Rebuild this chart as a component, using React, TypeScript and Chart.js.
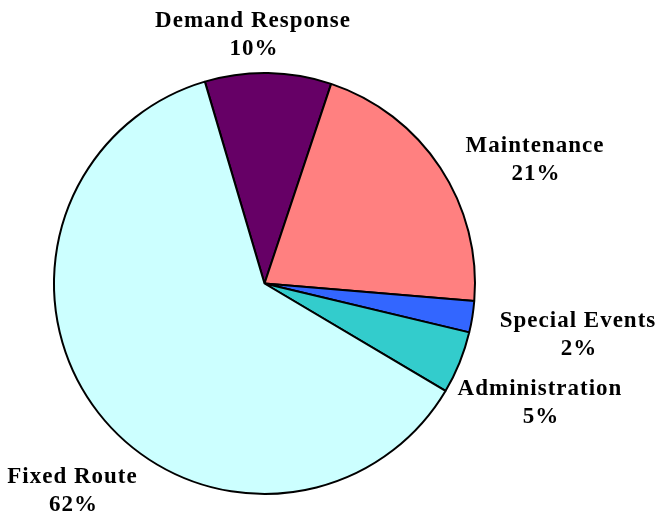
import React, { useEffect, useRef } from "react";
import { Chart, registerables } from "chart.js";

Chart.register(...registerables);

const categories = ["Demand Response", "Maintenance", "Special Events", "Administration", "Fixed Route"];
const values = [9.7, 21.2, 2.4, 4.8, 61.9];
const colors = ["#660066", "#FF8080", "#3366FF", "#33CCCC", "#CCFFFF"];

// label block placement relative to the pie centre: [dx of text centre, dy of first baseline]
const labelOffsets: [number, number][] = [
  [-11.5, -256.8],
  [270.5, -131.8],
  [313.5, 43.2],
  [275.5, 111.5],
  [-192, 199.5],
];

const labelPlugin = {
  id: "pieLabels",
  afterDraw(chart: any) {
    const ctx = chart.ctx;
    const meta = chart.getDatasetMeta(0);
    const total = values.reduce((a, b) => a + b, 0);
    ctx.save();
    ctx.fillStyle = "#000";
    ctx.font = "bold 23px 'Liberation Serif', 'Times New Roman', serif";
    ctx.textAlign = "center";
    ctx.textBaseline = "alphabetic";
    try {
      (ctx as any).letterSpacing = "1px";
    } catch (e) {}
    meta.data.forEach((arc: any, i: number) => {
      const cx = arc.x;
      const cy = arc.y;
      const [dx, dy] = labelOffsets[i];
      const pct = Math.round((values[i] / total) * 100) + "%";
      ctx.fillText(categories[i], cx + dx, cy + dy);
      ctx.fillText(pct, cx + dx + 1, cy + dy + 28.3);
    });
    ctx.restore();
  },
};

export default function App() {
  const ref = useRef<HTMLCanvasElement | null>(null);
  useEffect(() => {
    if (!ref.current) return;
    const chart = new Chart(ref.current, {
      type: "pie",
      data: {
        labels: categories,
        datasets: [
          {
            data: values,
            backgroundColor: colors,
            borderColor: "#000000",
            borderWidth: 2,
          },
        ],
      },
      options: {
        responsive: false,
        animation: false,
        rotation: -16.46,
        layout: { padding: { left: 53, right: 180, top: 72, bottom: 21 } },
        plugins: {
          legend: { display: false },
          tooltip: { enabled: false },
        },
      },
      plugins: [labelPlugin],
    });
    return () => chart.destroy();
  }, []);
  return (
    <div style={{ position: "fixed", left: 0, top: 0, width: 656, height: 516, background: "#fff" }}>
      <canvas ref={ref} width={656} height={516} />
    </div>
  );
}
